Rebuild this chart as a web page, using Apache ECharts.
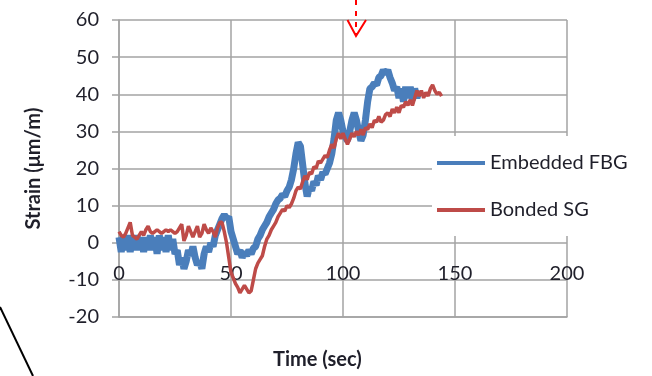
<!DOCTYPE html>
<html>
<head>
<meta charset="utf-8">
<script src="https://cdn.jsdelivr.net/npm/echarts@6/dist/echarts.min.js"></script>
<style>html,body{margin:0;padding:0;background:#fff}#c{width:652px;height:376px}</style>
</head>
<body>
<div id="c"></div>
<script>
var xTicks = [0, 50, 100, 150, 200];
var yTicks = [-20, -10, 0, 10, 20, 30, 40, 50, 60];
var seriesNames = ['Embedded FBG', 'Bonded SG'];

// Embedded FBG, one value per second from t = 0
var fbgStrain = [1.5,-2.5,2,-2,2,-2.5,1.5,-2,2,-2,1.5,-2.5,1.5,-2,2,-2,1.5,-3,2,-2,1.5,-2.5,2,-2,1,-3,
  -2,-6,-4,-7,-5,-2,-3.5,-1,-4,-6,-5,-7,-3,-1,-2.5,0,-1,2,3.5,5,6.5,7.5,6.5,7,3,1,-1,-3,-2,-4,-2.5,-3.5,-2,-3,
  -1.5,-1,1,2,3.5,4.5,5.5,7,8,9,10.5,11.5,12,13,12.5,14,15,17,20,24,27,26,21,16,12.5,15,14,16.5,15.5,18,17,19,
  18.5,20,21.5,24,28,33,35,33,30,28.5,27.5,30,33,35,33,30,27.5,29,33,38,41.5,42,43,42.5,44.5,45,46.5,45.5,46.5,
  44.5,43,41,42,39,41.5,38,42,39,42,38.5,41.5,39,41];

// Bonded SG, one value per second from t = 0
var sgStrain = [3,2,1.5,2.5,4,5.5,2,1.5,1,2,3,2,3.5,4.5,3,2.5,3,3.5,3,2.5,3,3.5,3,3.5,3,2.5,3,4,5,0.5,2,4.5,3,
  1.5,3,4.5,1.5,2.5,5,3.5,2.5,4,3,1.5,4,5.5,5.5,3,0,-4,-8,-9.5,-11,-12,-13.5,-12.5,-11.5,-12.5,-13.5,-13,-10,-7,
  -5.5,-4.5,-3.5,-1,1,2,3.5,4.5,5.5,7,8,9,8.5,10,9.5,10.5,12,14,15,14.5,16.5,18,17,19,18.5,20.5,20,22,21.5,22.5,
  23.5,23,25,26.5,25.5,28,29.5,28,29.5,28,26.5,28,29.5,28.5,30,29,30.5,29,31,30.5,32,31,33,32.5,34,32.5,33,34.5,
  35,34,36,35,36.5,35,37,36.5,38,37,38.5,37,39,41,39.5,41,39,40.5,39.5,41.5,42.5,41,40,40.5,39.5];

function pairs(arr) {
  var out = [];
  for (var i = 0; i < arr.length; i++) out.push([i, arr[i]]);
  return out;
}

var textColor = '#1f1f2a';
var gridColor = '#a3a3a3';
var font = 'Lato, "Open Sans", sans-serif';

var chart = echarts.init(document.getElementById('c'), null, {renderer: 'canvas'});
chart.setOption({
  animation: false,
  backgroundColor: '#ffffff',
  grid: {left: 119, right: 85, top: 20, bottom: 59, containLabel: false},
  xAxis: [
    {
      type: 'value', min: xTicks[0], max: xTicks[xTicks.length - 1], interval: 50,
      axisLine: {show: true, onZero: false, lineStyle: {color: gridColor, width: 1.5}},
      axisTick: {show: false},
      splitLine: {show: true, lineStyle: {color: gridColor, width: 1.5}},
      axisLabel: {show: false}
    },
    {
      type: 'value', position: 'bottom', offset: -74,
      min: xTicks[0], max: xTicks[xTicks.length - 1], interval: 50,
      axisLine: {show: false, onZero: false},
      axisTick: {show: false},
      splitLine: {show: false},
      axisLabel: {color: textColor, fontSize: 20, fontFamily: font, margin: 21}
    }
  ],
  yAxis: {
    type: 'value', min: yTicks[0], max: yTicks[yTicks.length - 1], interval: 10,
    name: 'Strain (\u03bcm/m)', nameLocation: 'middle', nameGap: 75,
    nameTextStyle: {color: textColor, fontSize: 20, fontWeight: 'bold', fontFamily: font},
    axisLine: {show: true, onZero: false, lineStyle: {color: gridColor, width: 1.5}},
    axisTick: {show: true, length: 7, lineStyle: {color: gridColor, width: 1.5}},
    splitLine: {show: true, lineStyle: {color: gridColor, width: 1.5}},
    axisLabel: {color: textColor, fontSize: 20, fontFamily: font, margin: 20}
  },
  legend: {
    orient: 'vertical', left: 432, top: 136,
    padding: [16, 30, 15, 5], itemGap: 25,
    backgroundColor: '#ffffff',
    icon: 'rect', itemWidth: 48, itemHeight: 4,
    textStyle: {color: textColor, fontSize: 20, fontFamily: font, lineHeight: 22},
    data: seriesNames
  },
  series: [
    {
      name: seriesNames[0], type: 'line', data: pairs(fbgStrain), showSymbol: false, smooth: false,
      lineStyle: {color: '#4a7ebb', width: 7}, itemStyle: {color: '#4a7ebb'}, z: 2
    },
    {
      name: seriesNames[1], type: 'line', data: pairs(sgStrain), showSymbol: false, smooth: false,
      lineStyle: {color: '#be4b48', width: 3.5}, itemStyle: {color: '#be4b48'}, z: 3
    }
  ],
  graphic: [
    {type: 'text', left: 273, top: 350, style: {text: 'Time (sec)', fill: textColor, font: 'bold 20px ' + font}},
    {type: 'line', shape: {x1: 356, y1: 0, x2: 356, y2: 34}, style: {stroke: '#ff0000', lineWidth: 2, lineDash: [5, 6]}, z: 10},
    {type: 'polyline', shape: {points: [[347.5, 20], [356, 36], [366, 20]]}, style: {stroke: '#ff0000', lineWidth: 2, fill: null}, z: 10},
    {type: 'line', shape: {x1: 0, y1: 307, x2: 33, y2: 376}, style: {stroke: '#000000', lineWidth: 2}, z: 10}
  ]
});
</script>
</body>
</html>
